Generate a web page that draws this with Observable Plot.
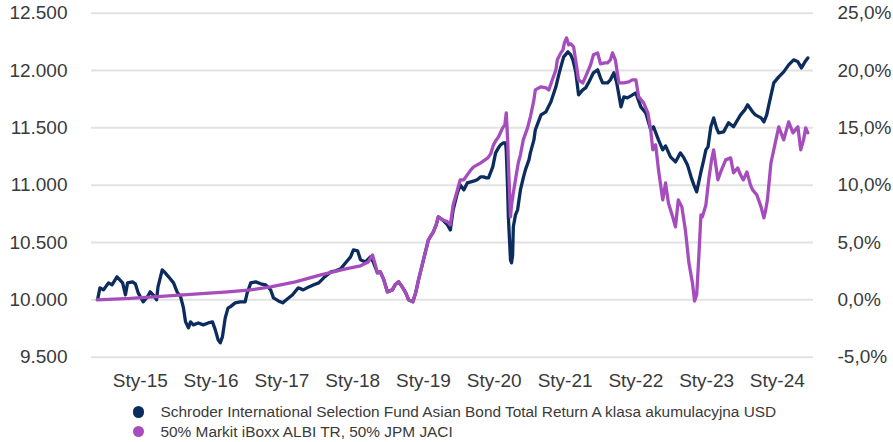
<!DOCTYPE html>
<html>
<head>
<meta charset="utf-8">
<script src="https://cdn.jsdelivr.net/npm/d3@7"></script>
<script src="https://cdn.jsdelivr.net/npm/@observablehq/plot@0.6"></script>
<style>
  html, body { margin: 0; padding: 0; background: #fff; }
  #wrap { position: relative; width: 893px; height: 442px; font-family: "Liberation Sans", Arial, sans-serif; }
  #legend { position: absolute; left: 132.5px; top: 402px; font-size: 15.4px; color: #3a3a3a; }
  .row { height: 19.5px; line-height: 19.5px; display: flex; align-items: center; white-space: nowrap; }
  .dot { width: 11.5px; height: 11.5px; border-radius: 50%; margin-right: 16.5px; flex: none; }
</style>
</head>
<body>
<div id="wrap">
  <div id="chart"></div>
  <div id="legend"></div>
</div>
<script>
// ---- data (decimal year, value) ----
const seriesNames = [
  "Schroder International Selection Fund Asian Bond Total Return A klasa akumulacyjna USD",
  "50% Markit iBoxx ALBI TR, 50% JPM JACI"
];
const seriesColors = ["#0b2c5d", "#a64dbe"];

const fundSeries = [
[2014.40,10015],[2014.43,10105],[2014.48,10087],[2014.55,10148],[2014.60,10131],[2014.67,10201],[2014.75,10148],[2014.79,10044],[2014.82,10148],[2014.89,10157],[2014.93,10140],[2014.97,10061],[2015.04,9983],[2015.10,10026],[2015.14,10070],[2015.18,10044],[2015.23,10000],[2015.25,10113],[2015.31,10262],[2015.34,10244],[2015.40,10201],[2015.47,10148],[2015.52,10070],[2015.57,10026],[2015.61,9930],[2015.64,9808],[2015.68,9756],[2015.71,9808],[2015.75,9782],[2015.82,9799],[2015.89,9782],[2015.96,9799],[2016.02,9808],[2016.06,9738],[2016.10,9651],[2016.13,9625],[2016.16,9677],[2016.20,9843],[2016.24,9930],[2016.27,9939],[2016.34,9974],[2016.41,9983],[2016.48,9983],[2016.51,10061],[2016.56,10148],[2016.63,10157],[2016.70,10140],[2016.77,10131],[2016.84,10087],[2016.88,10017],[2016.95,9991],[2017.01,9974],[2017.08,10009],[2017.15,10044],[2017.23,10105],[2017.30,10087],[2017.38,10113],[2017.45,10131],[2017.52,10148],[2017.59,10192],[2017.69,10244],[2017.76,10253],[2017.83,10270],[2017.90,10323],[2017.97,10375],[2018.01,10436],[2018.07,10427],[2018.11,10349],[2018.18,10331],[2018.25,10375],[2018.29,10331],[2018.35,10235],[2018.39,10244],[2018.44,10174],[2018.49,10070],[2018.56,10087],[2018.60,10131],[2018.65,10157],[2018.70,10113],[2018.75,10061],[2018.79,10000],[2018.85,9983],[2018.89,10061],[2018.93,10174],[2019.00,10349],[2019.07,10523],[2019.14,10593],[2019.18,10654],[2019.21,10724],[2019.27,10698],[2019.34,10654],[2019.38,10610],[2019.42,10785],[2019.48,10933],[2019.52,11003],[2019.57,10959],[2019.62,11020],[2019.67,11029],[2019.72,11038],[2019.76,11047],[2019.81,11073],[2019.85,11073],[2019.89,11064],[2019.92,11064],[2019.98,11160],[2020.02,11282],[2020.06,11326],[2020.09,11352],[2020.13,11369],[2020.16,11369],[2020.17,11308],[2020.19,10959],[2020.20,10724],[2020.23,10349],[2020.245,10323],[2020.26,10392],[2020.27,10637],[2020.30,10741],[2020.33,10785],[2020.37,10959],[2020.41,11064],[2020.44,11134],[2020.49,11221],[2020.51,11282],[2020.56,11395],[2020.58,11483],[2020.66,11613],[2020.73,11640],[2020.80,11727],[2020.87,11858],[2020.91,11962],[2020.94,12032],[2020.98,12119],[2021.04,12163],[2021.08,12137],[2021.11,12093],[2021.15,11988],[2021.19,11788],[2021.25,11831],[2021.29,11849],[2021.33,11892],[2021.40,11980],[2021.46,12006],[2021.50,11936],[2021.53,11892],[2021.60,11892],[2021.64,11919],[2021.69,11980],[2021.73,11892],[2021.79,11683],[2021.83,11770],[2021.88,11762],[2021.93,11779],[2022.00,11805],[2022.07,11683],[2022.14,11631],[2022.21,11483],[2022.25,11509],[2022.32,11395],[2022.38,11308],[2022.42,11343],[2022.49,11247],[2022.56,11203],[2022.63,11282],[2022.68,11238],[2022.73,11177],[2022.78,11073],[2022.82,11003],[2022.86,10942],[2022.92,11116],[2022.96,11221],[2022.99,11308],[2023.02,11334],[2023.06,11509],[2023.10,11587],[2023.14,11500],[2023.17,11456],[2023.24,11465],[2023.31,11544],[2023.38,11509],[2023.48,11613],[2023.54,11657],[2023.58,11701],[2023.65,11640],[2023.69,11613],[2023.77,11587],[2023.81,11552],[2023.85,11613],[2023.88,11701],[2023.95,11892],[2024.02,11945],[2024.09,11988],[2024.16,12049],[2024.23,12093],[2024.29,12076],[2024.34,12023],[2024.39,12076],[2024.43,12110]
];

const benchSeries = [
[2014.39,10000],[2014.86,10013],[2015.24,10029],[2015.71,10048],[2016.24,10070],[2016.56,10087],[2016.84,10113],[2017.19,10157],[2017.55,10218],[2017.90,10270],[2018.11,10297],[2018.22,10331],[2018.28,10392],[2018.32,10305],[2018.35,10235],[2018.39,10244],[2018.44,10174],[2018.49,10070],[2018.56,10087],[2018.60,10131],[2018.65,10157],[2018.70,10113],[2018.75,10061],[2018.79,10000],[2018.85,9983],[2018.89,10061],[2018.93,10174],[2019.00,10349],[2019.07,10523],[2019.14,10593],[2019.18,10654],[2019.21,10724],[2019.27,10698],[2019.34,10680],[2019.38,10654],[2019.42,10828],[2019.48,10959],[2019.52,11047],[2019.57,11047],[2019.62,11090],[2019.67,11134],[2019.71,11160],[2019.76,11177],[2019.81,11195],[2019.85,11212],[2019.91,11238],[2019.95,11273],[2019.99,11352],[2020.03,11395],[2020.06,11421],[2020.12,11500],[2020.15,11526],[2020.17,11631],[2020.19,11395],[2020.20,11195],[2020.23,10724],[2020.245,10828],[2020.27,10933],[2020.30,11047],[2020.34,11195],[2020.37,11265],[2020.41,11395],[2020.47,11500],[2020.51,11596],[2020.56,11744],[2020.58,11831],[2020.66,11858],[2020.73,11849],[2020.77,11831],[2020.82,11919],[2020.87,12006],[2020.89,12093],[2020.94,12154],[2020.97,12180],[2020.99,12241],[2021.02,12285],[2021.05,12224],[2021.08,12233],[2021.12,12206],[2021.16,12049],[2021.19,11919],[2021.25,11892],[2021.30,11962],[2021.36,12049],[2021.40,12137],[2021.46,12154],[2021.50,12058],[2021.56,12067],[2021.60,12067],[2021.64,12093],[2021.67,12154],[2021.71,12093],[2021.76,11892],[2021.83,11892],[2021.90,11901],[2021.95,11919],[2022.00,11919],[2022.04,11770],[2022.11,11718],[2022.17,11631],[2022.21,11483],[2022.24,11308],[2022.28,11352],[2022.32,11134],[2022.38,10872],[2022.42,11020],[2022.46,10846],[2022.52,10724],[2022.56,10637],[2022.60,10872],[2022.65,10811],[2022.70,10610],[2022.75,10323],[2022.78,10218],[2022.80,10148],[2022.83,9990],[2022.86,10044],[2022.89,10375],[2022.92,10741],[2022.94,10724],[2022.99,10828],[2023.03,11047],[2023.07,11221],[2023.10,11308],[2023.13,11177],[2023.16,11047],[2023.20,11116],[2023.27,11221],[2023.34,11238],[2023.38,11108],[2023.44,11151],[2023.48,11090],[2023.52,11047],[2023.57,11116],[2023.62,11003],[2023.65,10959],[2023.71,10916],[2023.77,10811],[2023.81,10715],[2023.83,10767],[2023.86,10872],[2023.91,11195],[2023.98,11395],[2024.02,11509],[2024.09,11395],[2024.16,11552],[2024.22,11456],[2024.29,11509],[2024.33,11308],[2024.37,11395],[2024.40,11500],[2024.43,11456]
];

const xTickYears = [2015, 2016, 2017, 2018, 2019, 2020, 2021, 2022, 2023, 2024];
const xTickLabels = ["Sty-15", "Sty-16", "Sty-17", "Sty-18", "Sty-19", "Sty-20", "Sty-21", "Sty-22", "Sty-23", "Sty-24"];
const yTicks = [9500, 10000, 10500, 11000, 11500, 12000, 12500];
const yBase = 10000;
const xDomainYears = [2014.31, 2024.51];

// ---- helpers ----
function toDate(dy) {
  const yr = Math.floor(dy);
  const s = Date.UTC(yr, 0, 1), e = Date.UTC(yr + 1, 0, 1);
  return new Date(s + (dy - yr) * (e - s));
}
const fund = fundSeries.map(([t, v]) => ({date: toDate(t), value: v}));
const bench = benchSeries.map(([t, v]) => ({date: toDate(t), value: v}));
const xTicks = xTickYears.map(y => new Date(Date.UTC(y, 0, 1)));
const fmtLeft = d => d3.format(",")(d).replace(/,/g, ".");
const fmtRight = d => ((d - yBase) / yBase * 100).toFixed(1).replace(".", ",") + "%";

const chart = Plot.plot({
  width: 893,
  height: 398,
  marginLeft: 91,
  marginRight: 80,
  marginTop: 12.7,
  marginBottom: 41.3,
  style: {fontFamily: "'Liberation Sans', Arial, sans-serif", fontSize: "19px", color: "#3a3a3a", background: "#fff", overflow: "visible"},
  x: {type: "utc", domain: xDomainYears.map(toDate)},
  y: {domain: [9500, 12500]},
  marks: [
    Plot.gridY(yTicks, {stroke: "#e2e2e2", strokeOpacity: 1, strokeWidth: 2}),
    Plot.axisY(yTicks, {anchor: "left", tickSize: 0, tickPadding: 24, tickFormat: fmtLeft, label: null}),
    Plot.axisY(yTicks, {anchor: "right", tickSize: 0, tickPadding: 24, tickFormat: fmtRight, label: null}),
    Plot.axisX(xTicks, {anchor: "bottom", tickSize: 0, tickPadding: 16, tickFormat: (d, i) => xTickLabels[i], label: null}),
    Plot.line(fund, {x: "date", y: "value", stroke: seriesColors[0], strokeWidth: 3.3, strokeLinejoin: "round"}),
    Plot.line(bench, {x: "date", y: "value", stroke: seriesColors[1], strokeWidth: 3.3, strokeLinejoin: "round"})
  ]
});
document.getElementById("chart").appendChild(chart);

const legend = document.getElementById("legend");
seriesNames.forEach((n, i) => {
  const row = document.createElement("div");
  row.className = "row";
  const dot = document.createElement("span");
  dot.className = "dot";
  dot.style.background = seriesColors[i];
  const txt = document.createElement("span");
  txt.textContent = n;
  row.appendChild(dot);
  row.appendChild(txt);
  legend.appendChild(row);
});
</script>
</body>
</html>
